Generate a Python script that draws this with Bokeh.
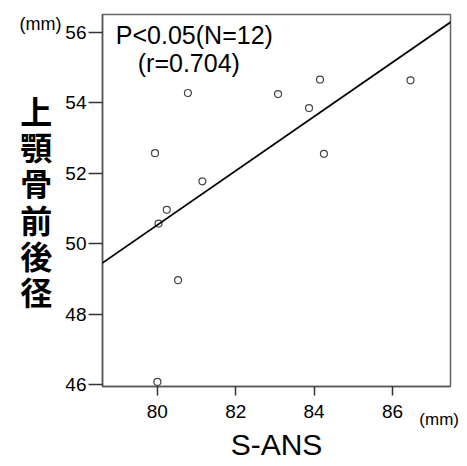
from bokeh.plotting import figure
from bokeh.models import Range1d, Label, Slope, FixedTicker, LinearAxis
from bokeh.embed import file_html
from bokeh.resources import INLINE

# data
s_ans = [80.78, 79.94, 84.15, 86.46, 83.08, 83.87, 84.25, 81.15, 80.24, 80.03, 80.53, 80.00]
maxilla = [54.28, 52.57, 54.66, 54.64, 54.25, 53.85, 52.55, 51.77, 50.96, 50.57, 48.96, 46.07]
x_ticks = [80, 82, 84, 86]
y_ticks = [46, 48, 50, 52, 54, 56]
fit_slope = 0.770
fit_intercept = -11.07
x_unit_pos = 87.19
y_unit_pos = 56.24

p = figure(width=467, height=466, output_backend="svg", toolbar_location=None,
           x_range=Range1d(78.60, 87.48), y_range=Range1d(45.94, 56.51),
           min_border_left=102, min_border_right=17, min_border_top=14, min_border_bottom=80)
p.background_fill_color = "white"
p.border_fill_color = "white"
p.outline_line_color = "#666666"
p.outline_line_width = 1.5
p.grid.visible = False

for ax, ticks in ((p.xaxis, x_ticks), (p.yaxis, y_ticks)):
    ax.ticker = FixedTicker(ticks=ticks)
    ax.minor_tick_line_color = None
    ax.axis_line_color = "#555555"
    ax.axis_line_width = 1.5
    ax.major_tick_line_color = "#333333"
    ax.major_tick_line_width = 1.5
    ax.major_tick_in = 0
    ax.major_label_text_font = "Liberation Sans"
    ax.major_label_text_font_size = "19px"
    ax.major_label_text_color = "black"
p.yaxis.major_tick_out = 14
p.yaxis.major_label_standoff = 2
p.xaxis.major_tick_out = 9
p.xaxis.major_label_standoff = 9

p.yaxis.axis_label = "上\n顎\n骨\n前\n後\n径"
p.yaxis.axis_label_text_font = "Noto Sans CJK JP"
p.yaxis.axis_label_text_font_size = "32px"
p.yaxis.axis_label_text_font_style = "bold"
p.yaxis.axis_label_text_color = "black"
p.yaxis.axis_label_text_line_height = 0.79
p.yaxis.axis_label_standoff = 10
p.yaxis.axis_label_orientation = "horizontal"

# unit labels as extra, line-less axes
def unit_axis(pos, standoff, size):
    return LinearAxis(ticker=FixedTicker(ticks=[pos]),
                      major_label_overrides={pos: "(mm)"},
                      axis_line_color=None, major_tick_line_color=None,
                      minor_tick_line_color=None, major_tick_out=0, major_tick_in=0,
                      major_label_standoff=standoff,
                      major_label_text_font="Liberation Sans",
                      major_label_text_font_size=size,
                      major_label_text_color="black")

p.add_layout(unit_axis(y_unit_pos, -44, "18px"), "left")

ax_x2 = unit_axis(x_unit_pos, -11, "17px")
ax_x2.axis_label = "S-ANS"
ax_x2.axis_label_text_font = "Liberation Sans"
ax_x2.axis_label_text_font_size = "30px"
ax_x2.axis_label_text_font_style = "normal"
ax_x2.axis_label_text_color = "black"
ax_x2.axis_label_standoff = -4
p.add_layout(ax_x2, "below")

p.add_layout(Slope(gradient=fit_slope, y_intercept=fit_intercept,
                   line_color="black", line_width=1.8))
p.scatter(s_ans, maxilla, size=7, marker="circle", fill_color="white",
          line_color="#444444", line_width=1.2)

def lab(text, x, y, size="25px"):
    return Label(x=x, y=y, text=text, text_font="Liberation Sans",
                 text_font_size=size, text_align="left",
                 text_baseline="alphabetic", text_color="black")

p.add_layout(lab("P<0.05(N=12)", 78.94, 55.92))
p.add_layout(lab("(r=0.704)", 79.50, 55.12))

open("out.html", "w").write(file_html(p, INLINE))
